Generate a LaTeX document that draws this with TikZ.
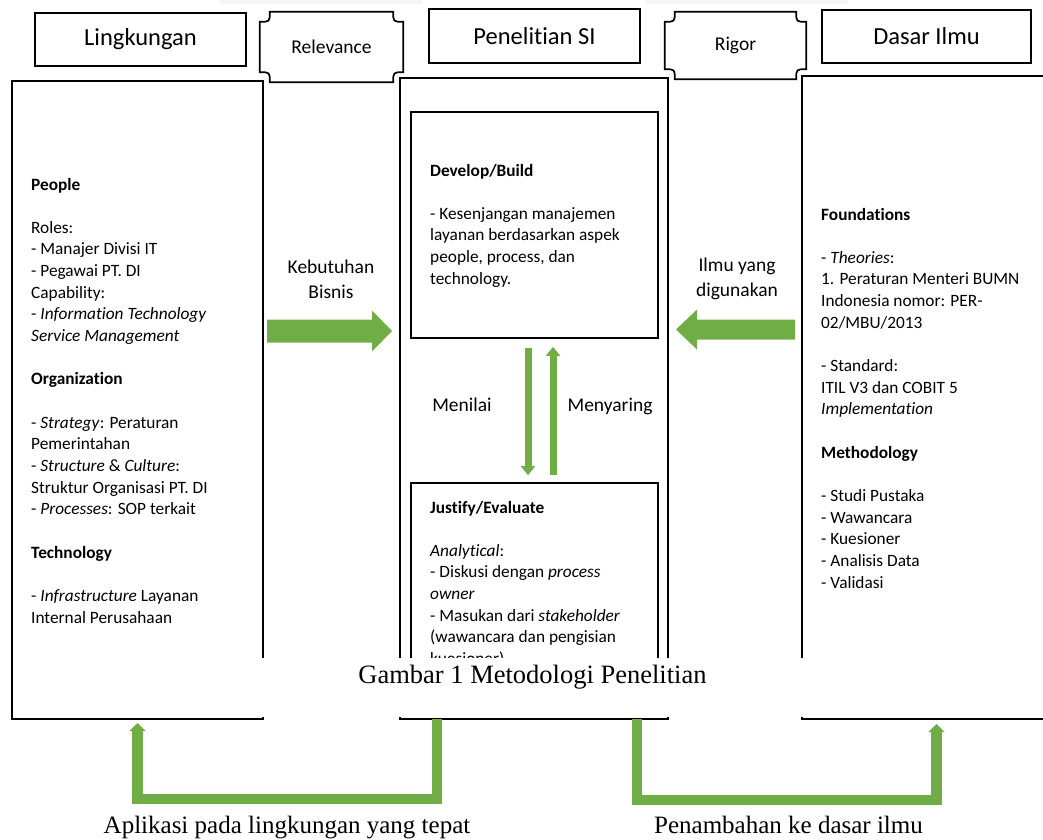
\documentclass[tikz,border=0pt]{standalone}
\usepackage{fontspec}
\setmainfont{Carlito}[RawFeature={-liga}]
\newfontfamily\tnr{Liberation Serif}
\usetikzlibrary{calc,arrows.meta}
\definecolor{gr}{HTML}{70AD47}
\newcommand{\bodyfont}{\fontsize{17.3}{21.65}\selectfont}
\newcommand{\gap}{\\[21.65pt]}
\newcommand{\lblfont}{\fontsize{19.5}{25}\selectfont}
\newcommand{\plaque}[2]{\draw[line width=1.7pt]
  ([yshift=-#2]#1.north west) .. controls ([xshift=#2,yshift=-#2]#1.north west) .. ([xshift=#2]#1.north west)
  -- ([xshift=-#2]#1.north east) .. controls ([xshift=-#2,yshift=-#2]#1.north east) .. ([yshift=-#2]#1.north east)
  -- ([yshift=#2]#1.south east) .. controls ([xshift=-#2,yshift=#2]#1.south east) .. ([xshift=-#2]#1.south east)
  -- ([xshift=#2]#1.south west) .. controls ([xshift=#2,yshift=#2]#1.south west) .. ([yshift=#2]#1.south west)
  -- cycle;}
\begin{document}
\begin{tikzpicture}[x=1pt,y=-1pt,
  hdr/.style={draw, line width=1.7pt, inner sep=0, font=\fontsize{24.5}{28}\selectfont},
  plq/.style={inner sep=0, font=\fontsize{19.5}{24}\selectfont},
  col/.style={draw, line width=1.7pt, inner sep=0},
  body/.style={anchor=base west, inner sep=0},
  lbl/.style={anchor=base, inner sep=0},
  gthin/.style={draw=gr, line width=7pt, -{Triangle[width=14pt,length=9pt]}},
  gconn/.style={draw=gr, line width=10.5pt, line join=miter, -{Triangle[width=16pt,length=8pt]}},
  serif/.style={anchor=base, inner sep=0, font=\tnr\fontsize{25}{28}\selectfont}]
\useasboundingbox (0,0) rectangle (1043,839);
\fill[gray!8] (220,0) rectangle (422,4);
\fill[gray!8] (645,0) rectangle (848,4);

% header row
\node[hdr, minimum width=211pt, minimum height=53pt] (hl) at (140.5,39.5) {Lingkungan};
\node[hdr, minimum width=211pt, minimum height=54pt] (hm) at (534.5,36) {Penelitian SI};
\node[hdr, minimum width=209pt, minimum height=53pt] (hr) at (926.5,36.5) {Dasar Ilmu};
\node[plq, minimum width=143pt, minimum height=70pt] (rel) at (331.5,47) {Relevance};
\node[plq, minimum width=141pt, minimum height=67pt] (rig) at (735.5,45.5) {Rigor};
\plaque{rel}{10pt}
\plaque{rig}{10pt}

% columns
\node[col, minimum width=251pt, minimum height=638pt] (lcol) at (137.5,400) {};
\node[col, minimum width=268pt, minimum height=641pt] (mcol) at (534,398.5) {};
\node[col, minimum width=260pt, minimum height=643pt] (rcol) at (932,397.5) {};
\node[col, minimum width=247pt, minimum height=226pt] (dev) at (534.5,225) {};
\node[col, minimum width=247pt, minimum height=222pt] (jus) at (534.5,594) {};

% texts
\node[body] (ltext) at (31,190) {\begin{minipage}[t]{300pt}\bodyfont\raggedright
\textbf{People}\gap
Roles:\\
- Manajer Divisi IT\\
- Pegawai PT. DI\\
Capability:\\
- \textit{Information Technology}\\
\textit{Service Management}\gap
\textbf{Organization}\gap
- \textit{Strategy}: Peraturan\\
Pemerintahan\\
- \textit{Structure} \& \textit{Culture}:\\
Struktur Organisasi PT. DI\\
- \textit{Processes}: SOP terkait\gap
\textbf{Technology}\gap
- \textit{Infrastructure} Layanan\\
Internal Perusahaan
\end{minipage}};

\node[body] (dtext) at (430,176) {\begin{minipage}[t]{300pt}\bodyfont\raggedright
\textbf{Develop/Build}\gap
- Kesenjangan manajemen\\
layanan berdasarkan aspek\\
people, process, dan\\
technology.
\end{minipage}};

\node[body] (jtext) at (430,513) {\begin{minipage}[t]{300pt}\bodyfont\raggedright
\textbf{Justify/Evaluate}\gap
\textit{Analytical}:\\
- Diskusi dengan \textit{process}\\
\textit{owner}\\
- Masukan dari \textit{stakeholder}\\
(wawancara dan pengisian\\
kuesioner)
\end{minipage}};

\node[body] (rtext) at (821,220) {\begin{minipage}[t]{300pt}\bodyfont\raggedright
\textbf{Foundations}\gap
- \textit{Theories}:\\
1. Peraturan Menteri BUMN\\
Indonesia nomor: PER-\\
02/MBU/2013\gap
- Standard:\\
ITIL V3 dan COBIT 5\\
\textit{Implementation}\gap
\textbf{Methodology}\gap
- Studi Pustaka\\
- Wawancara\\
- Kuesioner\\
- Analisis Data\\
- Validasi
\end{minipage}};

% side labels
\node[lbl] (kb) at (331,273) {\begin{minipage}[t]{150pt}\centering\lblfont Kebutuhan\\Bisnis\end{minipage}};
\node[lbl] (iy) at (737,271) {\begin{minipage}[t]{150pt}\centering\lblfont Ilmu yang\\digunakan\end{minipage}};
\node[lbl, font=\lblfont] (men) at (462,411) {Menilai};
\node[lbl, font=\lblfont] (mny) at (610,411) {Menyaring};

% block arrows
\coordinate (kbs) at (267,331);
\coordinate (kbt) at (392,331);
\fill[gr] ($(kbs)+(0,-11.5)$) -- ($(kbt)+(-20,-11.5)$) -- ($(kbt)+(-20,-20.5)$) -- (kbt)
  -- ($(kbt)+(-20,20.5)$) -- ($(kbt)+(-20,11.5)$) -- ($(kbs)+(0,11.5)$) -- cycle;
\coordinate (iys) at (795,329.5);
\coordinate (iyt) at (676,329.5);
\fill[gr] ($(iys)+(0,-10)$) -- ($(iyt)+(21,-10)$) -- ($(iyt)+(21,-20)$) -- (iyt)
  -- ($(iyt)+(21,20)$) -- ($(iyt)+(21,10)$) -- ($(iys)+(0,10)$) -- cycle;

% thin vertical arrows
\draw[gthin] ($(dev.south)+(-6.5,9)$) -- ($(jus.north)+(-6.5,-7)$);
\draw[gthin] ($(jus.north)+(18.5,-7)$) -- ($(dev.south)+(18.5,8)$);

% caption band
\fill[white] (258,658) rectangle (1043,716.5);
\node[serif, font=\tnr\fontsize{26.5}{30}\selectfont] (cap) at (532.5,683) {Gambar 1 Metodologi Penelitian};

% bottom connectors
\coordinate (p1) at (437,719);
\coordinate (p2) at (437,799);
\coordinate (p3) at (137.5,799);
\coordinate (p4) at (137.5,723);
\draw[gconn] (p1) -- (p2) -- (p3) -- (p4);
\coordinate (q1) at (637,719);
\coordinate (q2) at (637,800);
\coordinate (q3) at (936.5,800);
\coordinate (q4) at (936.5,724);
\draw[gconn] (q1) -- (q2) -- (q3) -- (q4);

\node[serif] (la1) at (287,833) {Aplikasi pada lingkungan yang tepat};
\node[serif] (la2) at (788.5,833) {Penambahan ke dasar ilmu};
\end{tikzpicture}
\end{document}
